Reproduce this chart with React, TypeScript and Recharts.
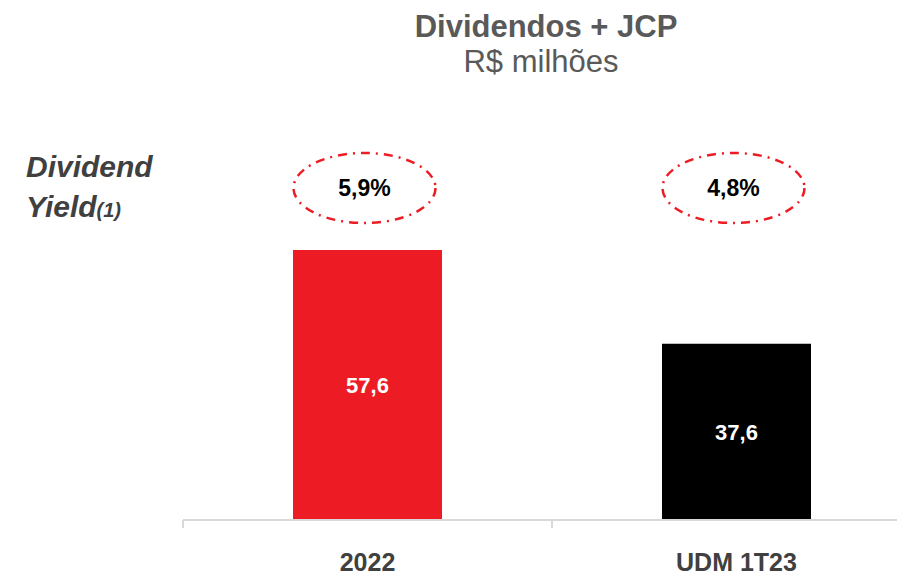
import { Bar, BarChart, Cell, LabelList, XAxis, YAxis } from "recharts"

const categories = ["2022", "UDM 1T23"]
const dividends = [57.6, 37.6]
const yields = [5.9, 4.8]
const barColors = ["#ED1C24", "#000000"]

const data = categories.map((name, i) => ({ name, value: dividends[i], yield: yields[i] }))

const W = 940
const H = 577
const LEFT = 183
const RIGHT = 19
const BAND = (W - LEFT - RIGHT) / categories.length
const FONT = "'Liberation Sans', Arial, sans-serif"

const fmt = (v: number) => v.toFixed(1).replace(".", ",")

function CategoryTick(props: any) {
  const { x, y, payload, index } = props
  return (
    <g>
      <line x1={x - BAND / 2} x2={x - BAND / 2} y1={y} y2={y + 8} stroke="#d9d9d9" strokeWidth={2} />
      {index === categories.length - 1 && (
        <line x1={x + BAND / 2} x2={x + BAND / 2} y1={y} y2={y + 8} stroke="#d9d9d9" strokeWidth={2} />
      )}
      <text x={x} y={y + 51} textAnchor="middle" fill="#404040" fontSize={25} fontWeight="bold" fontFamily={FONT}>
        {payload.value}
      </text>
    </g>
  )
}

// yield bubble above each bar, at a fixed height
function YieldBubble(props: any) {
  const { x, width, value } = props
  const cx = x + width / 2 - 3
  return (
    <g>
      <ellipse
        cx={cx}
        cy={188}
        rx={71}
        ry={35}
        fill="none"
        stroke="#ED1C24"
        strokeWidth={2.5}
        strokeDasharray="9 6 2 6"
      />
      <text x={cx} y={196} textAnchor="middle" fill="#000" fontSize={23} fontWeight="bold" fontFamily={FONT}>
        {fmt(value)}%
      </text>
    </g>
  )
}

export default function App() {
  return (
    <div style={{ position: "absolute", left: 0, top: 0, width: 897, height: 577, overflow: "hidden", background: "#fff" }}>
      <BarChart width={W} height={H} data={data} margin={{ top: 250, right: RIGHT, bottom: 0, left: LEFT }}>
        <XAxis
          dataKey="name"
          height={57}
          axisLine={{ stroke: "#d9d9d9", strokeWidth: 2 }}
          tickLine={false}
          tickSize={0}
          tickMargin={0}
          tick={<CategoryTick />}
          interval={0}
        />
        <YAxis hide domain={[0, "dataMax"]} />
        <Bar dataKey="value" barSize={149} isAnimationActive={false}>
          {data.map((_, i) => (
            <Cell key={i} fill={barColors[i]} />
          ))}
          <LabelList
            dataKey="value"
            position="center"
            formatter={(v: any) => fmt(Number(v))}
            fill="#fff"
            fontSize={22}
            fontWeight="bold"
            fontFamily={FONT}
          />
          <LabelList dataKey="yield" content={<YieldBubble />} />
        </Bar>
      </BarChart>
      <svg width={897} height={577} style={{ position: "absolute", left: 0, top: 0, pointerEvents: "none" }}>
        <text x={546} y={37} textAnchor="middle" fill="#595959" fontSize={31} fontWeight="bold" fontFamily={FONT}>
          Dividendos + JCP
        </text>
        <text x={541} y={72} textAnchor="middle" fill="#595959" fontSize={31} fontFamily={FONT}>
          R$ milhões
        </text>
        <text x={26} y={177} fill="#404040" fontSize={30} fontWeight="bold" fontStyle="italic" fontFamily={FONT}>
          Dividend
        </text>
        <text x={26} y={217} fill="#404040" fontSize={30} fontWeight="bold" fontStyle="italic" fontFamily={FONT}>
          Yield
          <tspan fontSize={20}>(1)</tspan>
        </text>
      </svg>
    </div>
  )
}
